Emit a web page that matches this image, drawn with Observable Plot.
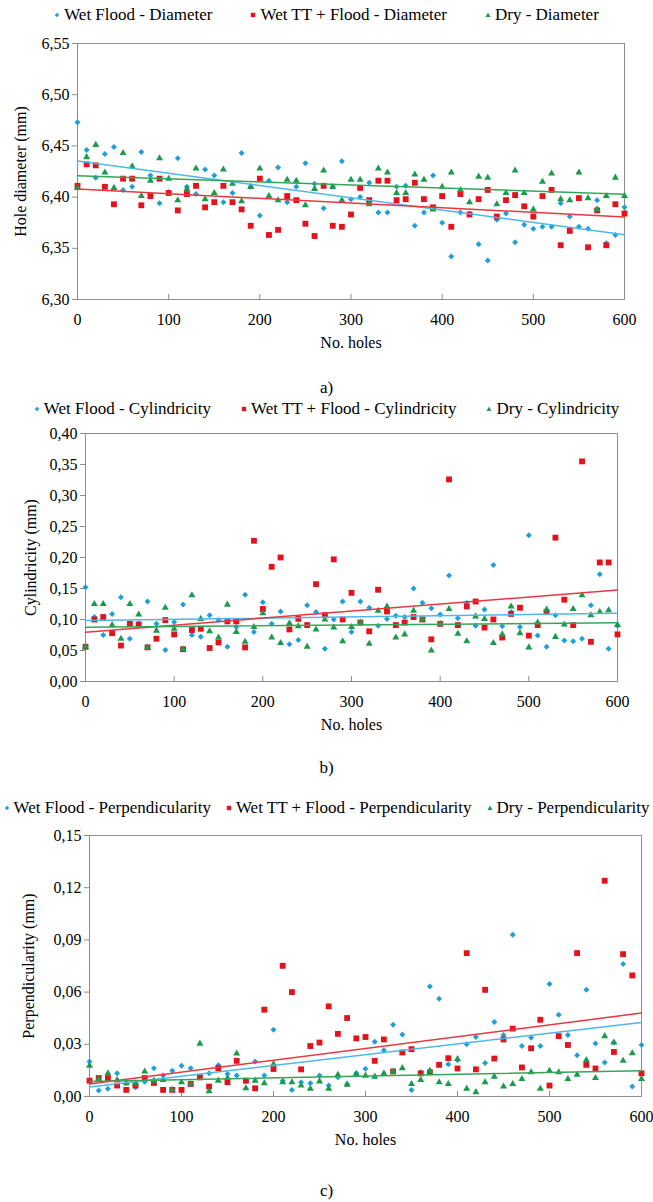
<!DOCTYPE html>
<html><head><meta charset="utf-8">
<script src="https://cdn.jsdelivr.net/npm/d3@7"></script>
<script src="https://cdn.jsdelivr.net/npm/@observablehq/plot@0.6"></script>
<style>
html,body{margin:0;padding:0;background:#fff}
body{width:653px;height:1202px;position:relative;overflow:hidden;font-family:'Liberation Serif','Times New Roman',Times,Tinos,'DejaVu Serif','Noto Serif',serif;color:#000}
.legend{position:absolute;left:0;width:653px;display:flex;justify-content:center;align-items:center;font-size:17px;line-height:18px;white-space:nowrap}
.legend .item{display:flex;align-items:center}
.legend svg{margin-right:4px}
.cap{position:absolute;left:0;width:653px;text-align:center;font-size:17px;line-height:20px}
.panel{position:absolute;left:0}
.panel svg text{font-family:'Liberation Serif','Times New Roman',Times,Tinos,'DejaVu Serif','Noto Serif',serif}
</style></head>
<body>
<script>
// ---------- data ----------
const holes = [0,10,20,30,40,50,60,70,80,90,100,110,120,130,140,150,160,170,180,190,200,210,220,230,240,250,260,270,280,290,300,310,320,330,340,350,360,370,380,390,400,410,420,430,440,450,460,470,480,490,500,510,520,530,540,550,560,570,580,590,600];

const diamWetFlood = [6.473,6.446,6.419,6.442,6.449,6.407,6.410,6.444,6.421,6.394,6.405,6.438,6.410,6.403,6.427,6.421,6.395,6.404,6.443,6.410,6.382,6.416,6.429,6.395,6.410,6.433,6.413,6.389,6.410,6.435,6.398,6.400,6.414,6.385,6.385,6.410,6.411,6.372,6.385,6.421,6.375,6.342,6.385,6.384,6.354,6.338,6.378,6.384,6.356,6.373,6.369,6.371,6.371,6.394,6.381,6.371,6.369,6.397,6.355,6.363,6.390];
const diamWetTT = [6.411,6.432,6.431,6.410,6.393,6.418,6.418,6.392,6.401,6.418,6.404,6.387,6.403,6.411,6.390,6.395,6.411,6.395,6.388,6.372,6.418,6.363,6.368,6.401,6.397,6.374,6.362,6.411,6.372,6.371,6.383,6.409,6.397,6.416,6.416,6.397,6.398,6.414,6.398,6.390,6.401,6.371,6.403,6.383,6.398,6.407,6.381,6.397,6.402,6.391,6.381,6.401,6.407,6.353,6.367,6.399,6.351,6.387,6.353,6.393,6.384];
const diamDry = [6.409,6.439,6.451,6.424,6.409,6.443,6.430,6.401,6.416,6.438,6.418,6.397,6.408,6.428,6.398,6.404,6.427,6.413,6.396,6.410,6.428,6.401,6.397,6.417,6.416,6.392,6.408,6.426,6.410,6.397,6.417,6.417,6.393,6.428,6.424,6.404,6.404,6.422,6.417,6.388,6.410,6.424,6.407,6.395,6.420,6.419,6.393,6.404,6.426,6.404,6.388,6.415,6.423,6.398,6.397,6.424,6.399,6.388,6.401,6.419,6.401];

const cylWetFlood = [0.152,0.104,0.075,0.109,0.136,0.069,0.093,0.129,0.093,0.051,0.096,0.124,0.075,0.072,0.107,0.099,0.056,0.088,0.140,0.080,0.128,0.093,0.113,0.060,0.067,0.123,0.112,0.053,0.100,0.129,0.080,0.129,0.119,0.090,0.101,0.106,0.104,0.150,0.127,0.118,0.108,0.171,0.102,0.127,0.090,0.116,0.188,0.089,0.112,0.088,0.236,0.074,0.056,0.107,0.066,0.065,0.069,0.123,0.173,0.053,0.090];
const cylWetTT = [0.056,0.100,0.104,0.078,0.058,0.093,0.092,0.055,0.069,0.099,0.076,0.052,0.083,0.085,0.054,0.063,0.097,0.097,0.055,0.227,0.117,0.185,0.200,0.084,0.101,0.091,0.157,0.107,0.197,0.100,0.143,0.095,0.081,0.148,0.113,0.091,0.095,0.104,0.100,0.068,0.093,0.326,0.091,0.121,0.129,0.087,0.100,0.071,0.109,0.119,0.074,0.091,0.112,0.232,0.132,0.091,0.355,0.064,0.192,0.192,0.076];
const cylDry = [0.056,0.125,0.125,0.091,0.069,0.125,0.108,0.055,0.082,0.119,0.085,0.052,0.139,0.101,0.081,0.071,0.124,0.080,0.064,0.088,0.110,0.071,0.062,0.094,0.089,0.056,0.084,0.100,0.087,0.065,0.088,0.095,0.061,0.114,0.121,0.071,0.076,0.114,0.100,0.050,0.093,0.117,0.077,0.065,0.105,0.101,0.062,0.076,0.121,0.078,0.055,0.095,0.116,0.072,0.092,0.117,0.139,0.107,0.112,0.115,0.091];

const perpWetFlood = [0.0201,0.0034,0.0044,0.0133,0.0076,0.0053,0.0085,0.0163,0.0120,0.0148,0.0177,0.0163,0.0110,0.0133,0.0180,0.0129,0.0120,0.0090,0.0201,0.0120,0.0384,0.0091,0.0038,0.0082,0.0076,0.0120,0.0063,0.0110,0.0072,0.0133,0.0160,0.0315,0.0266,0.0413,0.0357,0.0038,0.0139,0.0632,0.0562,0.0186,0.0209,0.0300,0.0342,0.0192,0.0428,0.0353,0.0929,0.0290,0.0338,0.0290,0.0646,0.0470,0.0353,0.0237,0.0613,0.0304,0.0196,0.0310,0.0762,0.0057,0.0296];
const perpWetTT = [0.0091,0.0106,0.0106,0.0063,0.0038,0.0063,0.0106,0.0078,0.0038,0.0038,0.0038,0.0072,0.0110,0.0057,0.0163,0.0082,0.0205,0.0091,0.0047,0.0499,0.0158,0.0751,0.0600,0.0156,0.0290,0.0310,0.0518,0.0360,0.0451,0.0334,0.0342,0.0205,0.0328,0.0144,0.0253,0.0272,0.0133,0.0139,0.0182,0.0220,0.0161,0.0824,0.0156,0.0613,0.0218,0.0328,0.0390,0.0167,0.0277,0.0441,0.0063,0.0347,0.0296,0.0824,0.0182,0.0161,0.1240,0.0256,0.0818,0.0696,0.0133];
const perpDry = [0.0177,0.0101,0.0133,0.0095,0.0076,0.0076,0.0144,0.0091,0.0095,0.0038,0.0082,0.0072,0.0304,0.0030,0.0091,0.0106,0.0247,0.0047,0.0091,0.0076,0.0186,0.0082,0.0082,0.0063,0.0044,0.0087,0.0044,0.0125,0.0068,0.0129,0.0120,0.0114,0.0133,0.0144,0.0163,0.0072,0.0095,0.0148,0.0082,0.0072,0.0215,0.0044,0.0025,0.0082,0.0114,0.0057,0.0072,0.0101,0.0139,0.0044,0.0148,0.0139,0.0101,0.0125,0.0209,0.0106,0.0347,0.0310,0.0205,0.0249,0.0101];

const xTicks = [0,100,200,300,400,500,600];
const diamTicks = [6.30,6.35,6.40,6.45,6.50,6.55];
const cylTicks = [0,0.05,0.10,0.15,0.20,0.25,0.30,0.35,0.40];
const perpTicks = [0,0.03,0.06,0.09,0.12,0.15];

const seriesNames = ["Wet Flood", "Wet TT + Flood", "Dry"];
// ---------- styles ----------
const FONT = "'Liberation Serif','Times New Roman',Times,Tinos,'DejaVu Serif','Noto Serif',serif";
const C = {blue:"#1f9fda", red:"#e3121b", green:"#1b9a4c"};
const L = {blue:"#4db8e6", red:"#e8383f", green:"#33a65a"};
const fmt = d => d3.format(".2f")(d).replace(".", ",");

function legend(top, gap, suffix) {
  const div = document.createElement("div");
  div.className = "legend";
  div.style.top = top + "px";
  div.style.gap = gap + "px";
  const sym = [
    '<svg width="6" height="8" viewBox="-3 -4 6 8"><path d="M0,-2.2L2.2,0L0,2.2L-2.2,0Z" fill="'+C.blue+'"/></svg>',
    '<svg width="6" height="8" viewBox="-3 -4 6 8"><rect x="-2.2" y="-2.2" width="4.4" height="4.4" fill="'+C.red+'"/></svg>',
    '<svg width="6" height="8" viewBox="-3 -4 6 8"><path d="M0,-2.4L2.5,2L-2.5,2Z" fill="'+C.green+'"/></svg>'
  ];
  seriesNames.forEach((n, i) => {
    const it = document.createElement("div");
    it.className = "item";
    it.innerHTML = sym[i] + "<span>" + n + " - " + suffix + "</span>";
    div.appendChild(it);
  });
  document.body.appendChild(div);
}
function caption(top, text) {
  const d = document.createElement("div");
  d.className = "cap"; d.style.top = top + "px"; d.textContent = text;
  document.body.appendChild(d);
}
function rows(arr) { return holes.map((h, i) => ({h, v: arr[i]})); }

function panel({top, ml, mr, plotH, yDomain, yTicks, yLabel, yLabelX, series}) {
  const mt = 10, mb = 52;
  const [b, r, g] = series.map(rows);
  const chart = Plot.plot({
    width: 653, height: mt + plotH + mb,
    marginTop: mt, marginBottom: mb, marginLeft: ml, marginRight: mr,
    style: {fontFamily: FONT, fontSize: "16px", background: "transparent", color: "#000", overflow: "visible"},
    x: {domain: [0, 600]},
    y: {domain: yDomain},
    marks: [
      Plot.frame({stroke: "#8c8c8c"}),
      Plot.axisY({ticks: yTicks, tickFormat: fmt, tickSize: 5, tickPadding: 3, stroke: "#8c8c8c", fill: "#000", fontSize: 16,
        label: yLabel, labelAnchor: "center", labelArrow: "none", labelOffset: ml - yLabelX}),
      Plot.axisX({ticks: xTicks, tickFormat: d => String(d), tickSize: -5, tickPadding: 19, stroke: "#8c8c8c", fill: "#000", fontSize: 16,
        label: "No. holes", labelAnchor: "center", labelArrow: "none", labelOffset: 48}),
      Plot.dot(b, {x: "h", y: "v", symbol: "diamond2", r: 2.7, fill: C.blue}),
      Plot.dot(r, {x: "h", y: "v", symbol: "square", r: 3.3, fill: C.red}),
      Plot.dot(g, {x: "h", y: "v", symbol: "triangle", r: 2.6, fill: C.green}),
      Plot.linearRegressionY(b, {x: "h", y: "v", stroke: L.blue, strokeWidth: 1.5, ci: 0}),
      Plot.linearRegressionY(r, {x: "h", y: "v", stroke: L.red, strokeWidth: 1.5, ci: 0}),
      Plot.linearRegressionY(g, {x: "h", y: "v", stroke: L.green, strokeWidth: 1.5, ci: 0})
    ]
  });
  const wrap = document.createElement("div");
  wrap.className = "panel";
  wrap.style.top = (top - mt) + "px";
  wrap.appendChild(chart);
  document.body.appendChild(wrap);
}

// panel a
legend(6, 38, "Diameter");
panel({top: 43, ml: 77, mr: 29, plotH: 256, yDomain: [6.30, 6.55], yTicks: diamTicks, yLabel: "Hole diameter (mm)", yLabelX: 14,
  series: [diamWetFlood, diamWetTT, diamDry]});
caption(378, "a)");

// panel b
legend(400, 30, "Cylindricity");
panel({top: 433, ml: 85, mr: 36, plotH: 248, yDomain: [0, 0.40], yTicks: cylTicks, yLabel: "Cylindricity (mm)", yLabelX: 24,
  series: [cylWetFlood, cylWetTT, cylDry]});
caption(758, "b)");

// panel c
legend(799, 15, "Perpendicularity");
panel({top: 835, ml: 89, mr: 12, plotH: 261, yDomain: [0, 0.15], yTicks: perpTicks, yLabel: "Perpendicularity (mm)", yLabelX: 22,
  series: [perpWetFlood, perpWetTT, perpDry]});
caption(1181, "c)");
</script>
</body></html>
